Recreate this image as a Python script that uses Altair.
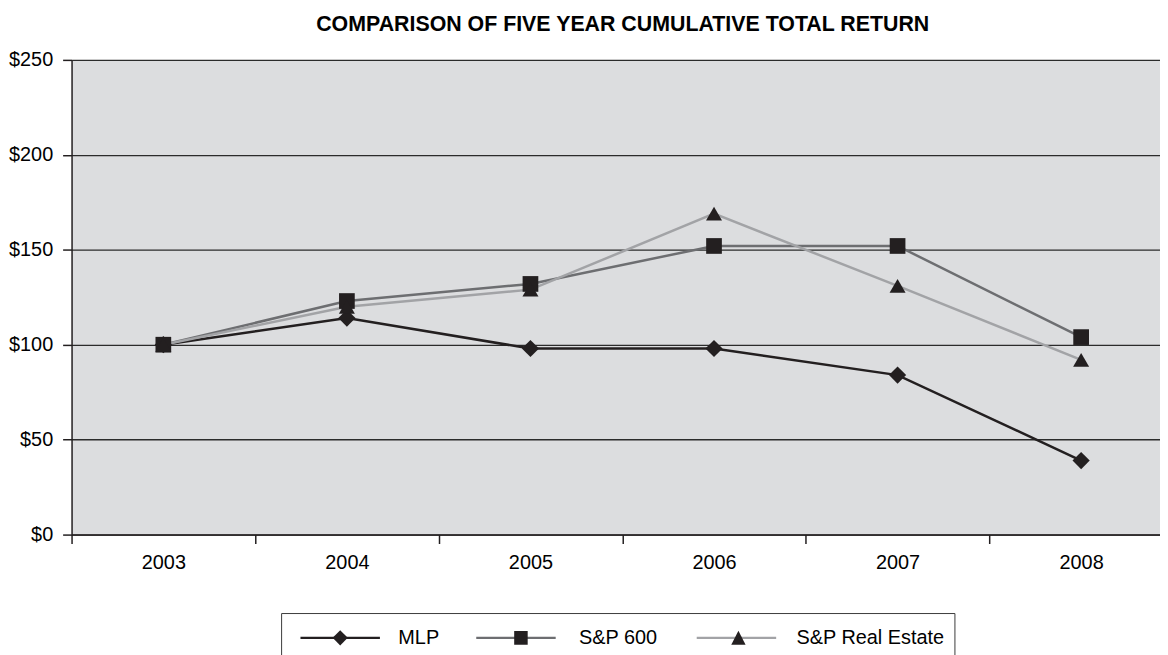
import altair as alt
import pandas as pd

years = ["2003", "2004", "2005", "2006", "2007", "2008"]
series_names = ["MLP", "S&P 600", "S&P Real Estate"]
mlp = [100, 114, 98, 98, 84, 39]
sp600 = [100, 123, 132, 152, 152, 104]
spre = [100, 120, 129, 169, 131, 92]

line_colors = ["#231f20", "#6d6e71", "#a2a3a6"]
marker_shapes = ["diamond", "square", "triangle-up"]
marker_sizes = [300, 250, 260]
legend_marker_paths = [
    "M-0.19,0L0,-0.19L0.19,0L0,0.19Z",
    "M-0.17,-0.17L0.17,-0.17L0.17,0.17L-0.17,0.17Z",
    "M0,-0.18L0.18,0.17L-0.18,0.17Z",
]
legend_line_path = "M-1,0L1,0"
legend_entry_offsets = [0, 177, 399]
y_ticks = [0, 50, 100, 150, 200, 250]

rows = []
for name, vals in zip(series_names, [mlp, sp600, spre]):
    for yr, v in zip(years, vals):
        rows.append({"year": yr, "value": v, "series": name})
df = pd.DataFrame(rows)

FONT = "Liberation Sans"

x_enc = alt.X(
    "year:O",
    scale=alt.Scale(type="band", domain=years, range=[0, 1109], paddingInner=0, paddingOuter=0),
    axis=alt.Axis(title=None, tickBand="extent", labelAngle=0, labelFontSize=20,
                  labelPadding=9, tickSize=9, grid=False),
)
y_enc = alt.Y(
    "value:Q",
    scale=alt.Scale(domain=[0, 250], nice=False),
    axis=alt.Axis(title=None, values=y_ticks, format="$.0f", labelFontSize=20,
                  tickSize=9, labelPadding=10, grid=True, gridColor="#2b2b2b",
                  gridWidth=1.3),
)

base = alt.Chart(df)

lines = base.mark_line(strokeWidth=2.5).encode(
    x=x_enc,
    y=y_enc,
    stroke=alt.Stroke("series:N", scale=alt.Scale(domain=series_names, range=line_colors), legend=None),
)

point_layers = []
for name, shp, sz in zip(series_names, marker_shapes, marker_sizes):
    point_layers.append(
        base.transform_filter(alt.datum.series == name).mark_point(
            shape=shp, size=sz, filled=True, fill="#231f20", opacity=1, strokeWidth=0
        ).encode(x=x_enc, y=y_enc)
    )

LEG_X = 211
LEG_Y = 557
common = dict(
    title=None, orient="none", legendY=LEG_Y, direction="horizontal",
    columns=3, padding=10, symbolSize=6400, symbolStrokeWidth=2.5, symbolOffset=8,
    labelOffset=17, labelFontSize=20, labelFont=FONT, labelColor="#000000",
    clipHeight=30, columnPadding=32, symbolOpacity=1,
)

# legend with markers, labels and the border box (drawn on top)
leg_marks = alt.Legend(
    legendX=LEG_X, symbolFillColor="#231f20", symbolStrokeColor="#231f20",
    strokeColor="#3a3a3a", zindex=2, **common
)
legend_marks_layer = base.mark_point(filled=True, fill="#231f20", opacity=0).encode(
    x=x_enc,
    y=y_enc,
    shape=alt.Shape("series:N", scale=alt.Scale(range=legend_marker_paths), legend=leg_marks),
)

# one legend per series for the coloured line part of each legend symbol
legend_line_layers = []
for name, col, off in zip(series_names, line_colors, legend_entry_offsets):
    leg_line = alt.Legend(
        legendX=LEG_X + off, symbolType=legend_line_path, symbolStrokeColor=col,
        labelExpr="''", zindex=1, **common
    )
    legend_line_layers.append(
        base.transform_filter(alt.datum.series == name).mark_point(
            filled=False, strokeWidth=2.5, opacity=0
        ).encode(
            x=x_enc,
            y=y_enc,
            shape=alt.Shape("series:N", scale=alt.Scale(range=[legend_line_path]), legend=leg_line),
        )
    )

chart = alt.layer(lines, *point_layers, *legend_line_layers, legend_marks_layer).resolve_scale(
    shape="independent"
).properties(
    width=1096,
    height=478,
    view=alt.ViewBackground(fill="#dcdddf", stroke="transparent"),
    title=alt.TitleParams(
        "COMPARISON OF FIVE YEAR CUMULATIVE TOTAL RETURN",
        fontSize=21.5, fontWeight="bold", font=FONT, anchor="middle", offset=15, dx=7,
        color="#000000",
    ),
    autosize=alt.AutoSizeParams(type="none"),
    padding={"left": 64, "top": 50, "right": 0, "bottom": 119},
).configure_view(
    fill="#dcdddf"
).configure_axis(
    labelFont=FONT, labelColor="#000000", domainColor="#231f20", tickColor="#231f20",
    domainWidth=1.5, tickWidth=1.5,
)

chart.save("out.html", embed_options={"renderer": "svg", "actions": False})
